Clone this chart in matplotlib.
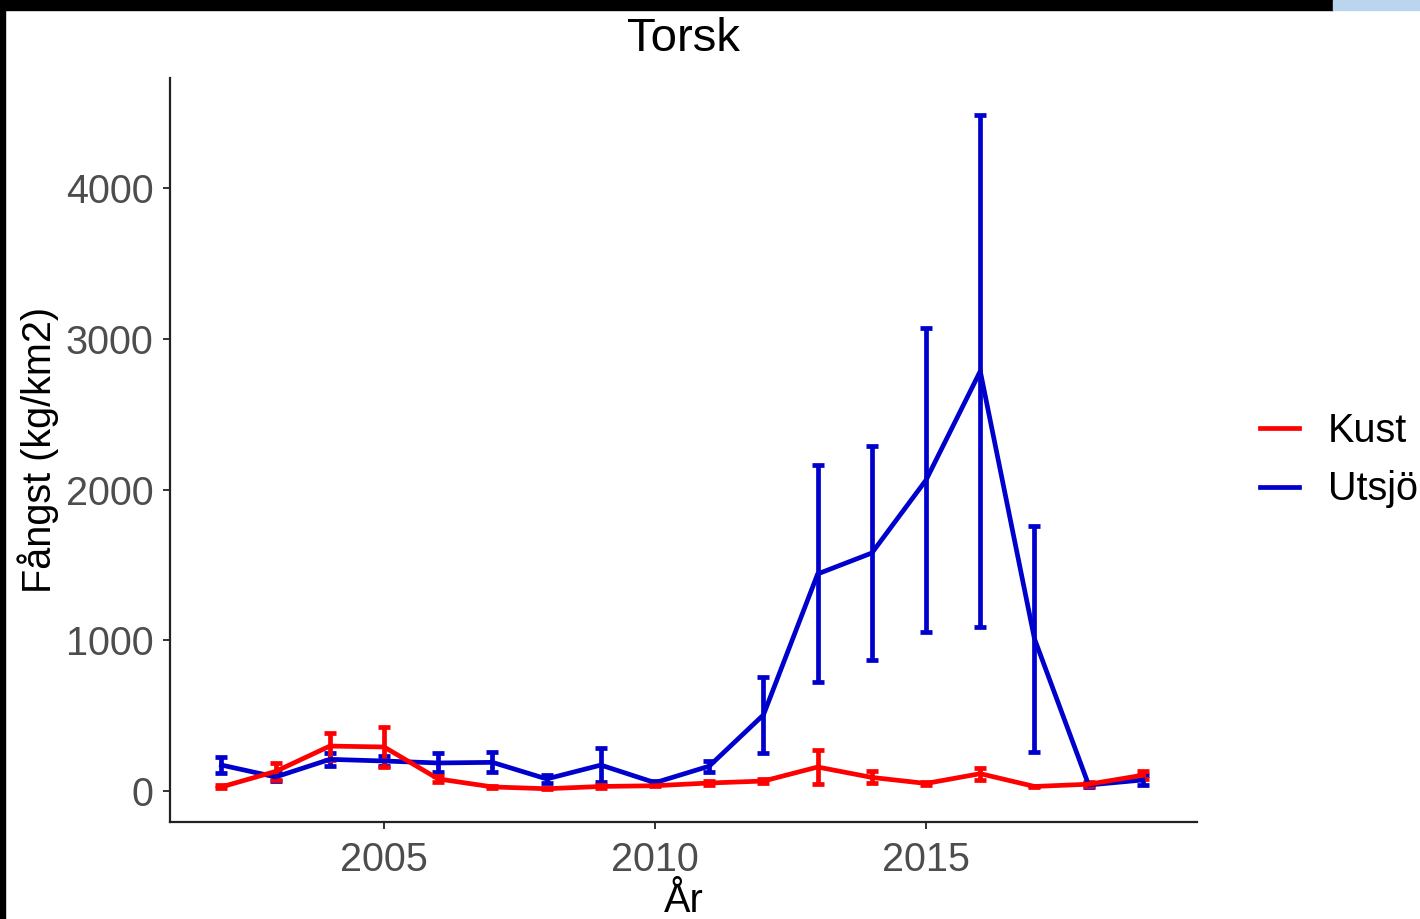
import matplotlib
matplotlib.use("Agg")
from matplotlib import pyplot as plt
from matplotlib.patches import Rectangle

years = [2002, 2003, 2004, 2005, 2006, 2007, 2008, 2009, 2010,
         2011, 2012, 2013, 2014, 2015, 2016, 2017, 2018, 2019]

# Kust (red)
kust = [27, 130, 298, 292, 80, 27, 15, 30, 35,
        53, 66, 159, 90, 50, 115, 30, 45, 105]
kust_se = [10, 55, 90, 135, 20, 5, 5, 10, 5,
           10, 15, 110, 40, 10, 40, 5, 15, 25]

# Utsjö (blue)
utsjo = [172, 93, 210, 199, 186, 190, 80, 172, 55,
         165, 505, 1440, 1579, 2063, 2785, 1010, 40, 73]
utsjo_se = [55, 25, 45, 30, 63, 67, 25, 115, 10,
            37, 250, 720, 710, 1010, 1700, 750, 15, 30]

labels = ["Kust", "Utsjö"]
colors = ["#FF0000", "#0000CD"]

plt.rcParams['font.family'] = ['Liberation Sans', 'DejaVu Sans']

fig = plt.figure(figsize=(14.2, 9.19), dpi=100)
ax = fig.add_axes([0.1197, 0.1055, 0.7233, 0.8096])

# blue first so red sits on top
ax.errorbar(years, utsjo, yerr=utsjo_se, color=colors[1], lw=3.4,
            elinewidth=3.4, capsize=4.5, capthick=3.4, label=labels[1])
ax.errorbar(years, kust, yerr=kust_se, color=colors[0], lw=3.4,
            elinewidth=3.4, capsize=4.5, capthick=3.4, label=labels[0])

ax.set_xlim(2001.05, 2020.0)
ax.set_ylim(-206, 4730)
ax.set_xticks([2005, 2010, 2015])
ax.set_yticks([0, 1000, 2000, 3000, 4000])

for s in ["top", "right"]:
    ax.spines[s].set_visible(False)
for s in ["left", "bottom"]:
    ax.spines[s].set_linewidth(1.6)
    ax.spines[s].set_color("#222222")

ax.tick_params(axis="both", labelsize=28.5, labelcolor="#4D4D4D",
               color="#333333", length=5, width=1.4)
ax.tick_params(axis="x", pad=9)
ax.tick_params(axis="y", pad=7)

ax.set_xlabel("År", fontsize=28.5, labelpad=2)
ax.set_ylabel("Fångst (kg/km2)", fontsize=28.5, labelpad=5)
fig.text(0.481, 0.958, "Torsk", fontsize=34, ha="center", va="center")

handles, hl = ax.get_legend_handles_labels()
order = [1, 0]
leg = ax.legend([handles[i][0] for i in order], [hl[i] for i in order],
                loc="center left", bbox_to_anchor=(1.0265, 0.4866),
                frameon=False, fontsize=28.5, handlelength=1.0,
                handletextpad=0.72, labelspacing=0.53)

# screenshot borders
fig.patches.append(Rectangle((0, 1 - 10 / 919), 1333 / 1420, 10 / 919,
                             transform=fig.transFigure, color="black", zorder=10))
fig.patches.append(Rectangle((1333 / 1420, 1 - 10 / 919), 87 / 1420, 10 / 919,
                             transform=fig.transFigure, color="#BBD5EE", zorder=10))
fig.patches.append(Rectangle((0, 0), 5 / 1420, 1,
                             transform=fig.transFigure, color="black", zorder=10))

fig.savefig("out.png", dpi=100)
